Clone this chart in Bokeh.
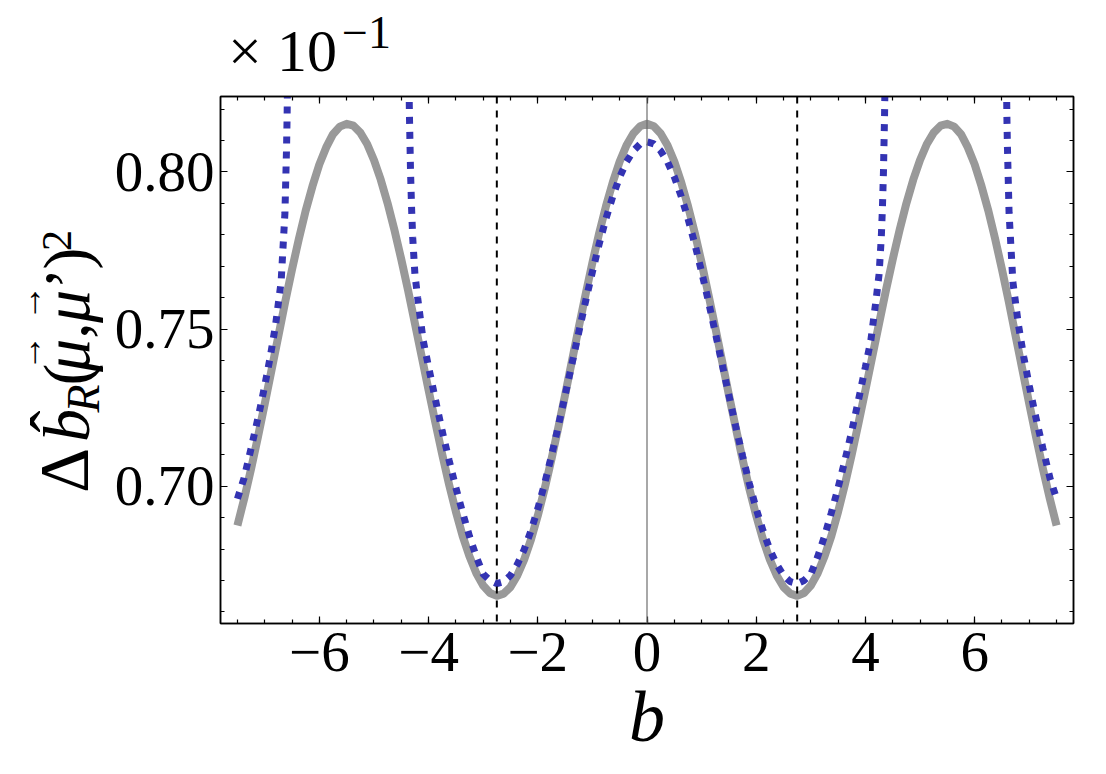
import math
from bokeh.plotting import figure
from bokeh.layouts import column, row
from bokeh.models import Range1d, FixedTicker, LinearAxis, Span, CustomJSTickFormatter
from bokeh.core.properties import value
from bokeh.embed import file_html
from bokeh.resources import INLINE

# ---------------- data ----------------
gray_b = [-7.5, -7.375, -7.25, -7.125, -7.0, -6.875, -6.75, -6.625, -6.5, -6.375, -6.25, -6.125,
          -6.0, -5.875, -5.75, -5.625, -5.5, -5.375, -5.25, -5.125, -5.0, -4.875, -4.75, -4.625,
          -4.5, -4.375, -4.25, -4.125, -4.0, -3.875, -3.75, -3.625, -3.5, -3.375, -3.25, -3.125,
          -3.0, -2.875, -2.75, -2.625, -2.5, -2.375, -2.25, -2.125, -2.0, -1.875, -1.75, -1.625,
          -1.5, -1.375, -1.25, -1.125, -1.0, -0.875, -0.75, -0.625, -0.5, -0.375, -0.25, -0.125,
          0.0, 0.125, 0.25, 0.375, 0.5, 0.625, 0.75, 0.875, 1.0, 1.125, 1.25, 1.375, 1.5, 1.625,
          1.75, 1.875, 2.0, 2.125, 2.25, 2.375, 2.5, 2.625, 2.75, 2.875, 3.0, 3.125, 3.25, 3.375,
          3.5, 3.625, 3.75, 3.875, 4.0, 4.125, 4.25, 4.375, 4.5, 4.625, 4.75, 4.875, 5.0, 5.125,
          5.25, 5.375, 5.5, 5.625, 5.75, 5.875, 6.0, 6.125, 6.25, 6.375, 6.5, 6.625, 6.75, 6.875,
          7.0, 7.125, 7.25, 7.375, 7.5]
gray_v = [0.6875, 0.6961, 0.7055, 0.7156, 0.7262, 0.7370, 0.7478, 0.7587, 0.7690, 0.7787, 0.7877,
          0.7955, 0.8024, 0.8078, 0.8120, 0.8144, 0.8153, 0.8147, 0.8125, 0.8089, 0.8038, 0.7975,
          0.7900, 0.7815, 0.7722, 0.7623, 0.7518, 0.7412, 0.7306, 0.7202, 0.7101, 0.7006, 0.6919,
          0.6841, 0.6776, 0.6723, 0.6684, 0.6660, 0.6651, 0.6658, 0.6679, 0.6716, 0.6766, 0.6830,
          0.6906, 0.6991, 0.7085, 0.7186, 0.7290, 0.7398, 0.7505, 0.7610, 0.7711, 0.7806, 0.7892,
          0.7968, 0.8033, 0.8085, 0.8122, 0.8145,
          0.8153,
          0.8145, 0.8122, 0.8085, 0.8033, 0.7968, 0.7892, 0.7806, 0.7711, 0.7610, 0.7505, 0.7398,
          0.7290, 0.7186, 0.7085, 0.6991, 0.6906, 0.6830, 0.6766, 0.6716, 0.6679, 0.6658, 0.6651,
          0.6660, 0.6684, 0.6723, 0.6776, 0.6841, 0.6919, 0.7006, 0.7101, 0.7202, 0.7306, 0.7412,
          0.7518, 0.7623, 0.7722, 0.7815, 0.7900, 0.7975, 0.8038, 0.8089, 0.8125, 0.8147, 0.8153,
          0.8144, 0.8120, 0.8078, 0.8024, 0.7955, 0.7877, 0.7787, 0.7690, 0.7587, 0.7478, 0.7370,
          0.7262, 0.7156, 0.7055, 0.6961, 0.6875]

blue_left_b = [-7.5, -7.38, -7.25, -7.1, -7.0, -6.9, -6.8, -6.7, -6.63, -6.6, -6.59, -6.575, -6.56]
blue_left_v = [0.6960, 0.7025, 0.7120, 0.7235, 0.7320, 0.7410, 0.7515, 0.7650, 0.7870, 0.8080,
               0.8180, 0.8400, 0.8700]

blue_mid_b = [-4.39, -4.37, -4.35, -4.33, -4.31, -4.29, -4.25, -4.2, -4.1, -4.0, -3.875, -3.75,
              -3.625, -3.5, -3.375, -3.25, -3.125, -3.0, -2.875, -2.75, -2.625, -2.5, -2.375,
              -2.25, -2.125, -2.0, -1.875, -1.75, -1.625, -1.5, -1.375, -1.25, -1.125, -1.0,
              -0.875, -0.75, -0.625, -0.5, -0.375, -0.25, -0.125, 0.0, 0.125, 0.25, 0.375, 0.5,
              0.625, 0.75, 0.875, 1.0, 1.125, 1.25, 1.375, 1.5, 1.625, 1.75, 1.875, 2.0, 2.125,
              2.25, 2.375, 2.5, 2.625, 2.75, 2.875, 3.0, 3.125, 3.25, 3.375, 3.5, 3.625, 3.75,
              3.875, 4.0, 4.1, 4.2, 4.25, 4.29, 4.31, 4.33, 4.35, 4.37, 4.39]
blue_mid_v = [0.8700, 0.8420, 0.8180, 0.8000, 0.7880, 0.7790, 0.7675, 0.7600, 0.7465, 0.7380,
              0.7276, 0.7175, 0.7083, 0.6995, 0.6915, 0.6840, 0.6775, 0.6720, 0.6700, 0.6690,
              0.6696, 0.6716, 0.6751, 0.6798, 0.6858, 0.6928, 0.7008, 0.7096, 0.7190, 0.7289,
              0.7389, 0.7489, 0.7588, 0.7682, 0.7771, 0.7852, 0.7923, 0.7984, 0.8032, 0.8067,
              0.8089, 0.8096, 0.8089, 0.8067, 0.8032, 0.7984, 0.7923, 0.7852, 0.7771, 0.7682,
              0.7588, 0.7489, 0.7389, 0.7289, 0.7190, 0.7096, 0.7008, 0.6928, 0.6858, 0.6798,
              0.6751, 0.6716, 0.6696, 0.6690, 0.6700, 0.6720, 0.6775, 0.6840, 0.6915, 0.6995,
              0.7083, 0.7175, 0.7276, 0.7380, 0.7465, 0.7600, 0.7675, 0.7790, 0.7880, 0.8000,
              0.8180, 0.8420, 0.8700]

blue_right_b = [6.56, 6.575, 6.59, 6.6, 6.63, 6.7, 6.8, 6.9, 7.0, 7.1, 7.25, 7.38, 7.5]
blue_right_v = [0.8700, 0.8400, 0.8180, 0.8080, 0.7870, 0.7650, 0.7515, 0.7410, 0.7320, 0.7235,
                0.7120, 0.7025, 0.6960]

minima_b = [-2.75, 2.75]

x_ticks = [-6, -4, -2, 0, 2, 4, 6]
x_tick_labels = ["\u22126", "\u22124", "\u22122", "0", "2", "4", "6"]
x_minor = [-7.5, -7.0, -6.5, -6.0, -5.5, -5.0, -4.5, -4.0, -3.5, -3.0, -2.5, -2.0, -1.5, -1.0,
           -0.5, 0.0, 0.5, 1.0, 1.5, 2.0, 2.5, 3.0, 3.5, 4.0, 4.5, 5.0, 5.5, 6.0, 6.5, 7.0, 7.5]
y_ticks = [0.70, 0.75, 0.80]
y_tick_labels = ["0.70", "0.75", "0.80"]
y_minor = [0.66, 0.67, 0.68, 0.69, 0.70, 0.71, 0.72, 0.73, 0.74, 0.75, 0.76, 0.77, 0.78, 0.79,
           0.80, 0.81, 0.82]

# ---------------- layout (page pixels) ----------------
X0, X1 = -7.81, 7.81
Y0, Y1 = 0.6563, 0.8240
W, H = 1100, 770
TH = 84            # strip above for the multiplier
YW = 110           # strip at left for the y label
FL, FR, FT, FB = 220, 1073, 96, 623          # frame edges in page pixels
MW, MH = W - YW, H - TH

FONT = "Liberation Serif"

p_main = figure(width=MW, height=MH, x_range=Range1d(X0, X1), y_range=Range1d(Y0, Y1),
                output_backend="svg", toolbar_location=None,
                min_border_left=FL - YW, min_border_right=W - FR,
                min_border_top=FT - TH, min_border_bottom=H - FB,
                background_fill_color="white", border_fill_color="white")
p_main.grid.visible = False
p_main.outline_line_color = "black"
p_main.outline_line_width = 1.5


def style_axis(ax, show_labels):
    ax.axis_line_color = "black"
    ax.axis_line_width = 1.5
    ax.major_tick_in = 7
    ax.major_tick_out = 0
    ax.minor_tick_in = 4
    ax.minor_tick_out = 0
    ax.major_tick_line_width = 1.2
    ax.minor_tick_line_width = 1.2
    ax.major_label_text_font = FONT
    ax.major_label_text_color = "black"
    if show_labels:
        ax.major_label_text_font_size = "57px"
        ax.major_label_standoff = 6
    else:
        ax.formatter = CustomJSTickFormatter(code="return ''")
        ax.major_label_text_font_size = "0px"
        ax.major_label_standoff = 0


p_main.xaxis.ticker = FixedTicker(ticks=x_ticks, minor_ticks=x_minor)
p_main.yaxis.ticker = FixedTicker(ticks=y_ticks, minor_ticks=y_minor)
p_main.xaxis.major_label_overrides = dict(zip(x_ticks, x_tick_labels))
p_main.yaxis.major_label_overrides = dict(zip(y_ticks, y_tick_labels))
for ax in p_main.xaxis:
    style_axis(ax, True)
    ax.major_label_standoff = 9
    ax.axis_label = "b"
    ax.axis_label_text_font = FONT
    ax.axis_label_text_font_style = "italic"
    ax.axis_label_text_font_size = "72px"
    ax.axis_label_text_color = "black"
    ax.axis_label_standoff = 3
for ax in p_main.yaxis:
    style_axis(ax, True)

top = LinearAxis(ticker=FixedTicker(ticks=x_ticks, minor_ticks=x_minor))
style_axis(top, False)
p_main.add_layout(top, "above")
right = LinearAxis(ticker=FixedTicker(ticks=y_ticks, minor_ticks=y_minor))
style_axis(right, False)
p_main.add_layout(right, "right")

# ---------------- curves ----------------
p_main.line(gray_b, gray_v, line_color="#999999", line_width=8, line_cap="butt", line_join="round")
for bb, vv in ((blue_left_b, blue_left_v), (blue_mid_b, blue_mid_v), (blue_right_b, blue_right_v)):
    p_main.line(bb, vv, line_color="#3333b3", line_width=7, line_dash="7 8", line_cap="butt")

for m in minima_b:
    p_main.add_layout(Span(location=m, dimension="height", line_color="black",
                           line_width=2, line_dash="7 7"))
p_main.add_layout(Span(location=0, dimension="height", line_color="#6e6e6e", line_width=1.2))


# ---------------- text strips ----------------
def strip(w, h, yspan):
    f = figure(width=w, height=h, x_range=Range1d(0, w), y_range=Range1d(0, yspan),
               output_backend="svg", toolbar_location=None, min_border=0, title=None,
               x_axis_type=None, y_axis_type=None,
               background_fill_color="white", border_fill_color="white")
    f.grid.visible = False
    f.outline_line_color = None
    return f


# top strip: its frame is the whole strip (page y 0..TH)
p_top = strip(W, TH, TH)
# left strip: its frame is aligned with the main frame (page y FT..FB)
p_ylab = strip(YW, MH, FB - FT)


def put(fig, ybottom, text, Xc, Yc, size, style="normal", angle=0.0):
    # Xc, Yc: page-pixel centre of the text box; ybottom: page y of the strip frame's bottom
    fig.text(x=[Xc], y=[ybottom - Yc], text=[text], angle=angle,
             text_font=value(FONT), text_font_size=value(f"{size}px"),
             text_font_style=style, text_align="center", text_baseline="middle",
             text_color="black")


# multiplier (centres)
put(p_top, TH, "\u00d7 10", 282, 50, 60)
put(p_top, TH, "\u22121", 366, 32, 46)

# y label (rotated, composed) -- page-pixel centres
R90 = math.pi / 2
ypieces = [
    ("\u0394", 470, 64, 70, "normal"),
    ("b", 425, 66, 66, "italic"),
    ("\u02c6", 421, 53, 66, "normal"),
    ("R", 398, 83, 46, "italic"),
    ("(", 374, 66, 66, "normal"),
    ("\u03bc", 355, 66, 66, "italic"),
    ("\u2192", 352, 28, 36, "normal"),
    (",", 330, 66, 66, "normal"),
    ("\u03bc", 306, 66, 66, "italic"),
    ("\u2192", 302, 28, 36, "normal"),
    ("\u2019", 278, 66, 66, "normal"),
    (")", 258, 66, 66, "normal"),
    ("2", 240, 56, 42, "normal"),
]
for t, Yc, Xc, s, st in ypieces:
    put(p_ylab, FB, t, Xc, Yc, s, st, angle=R90)

p = column(p_top, row(p_ylab, p_main))
open("out.html", "w").write(file_html(p, INLINE))
